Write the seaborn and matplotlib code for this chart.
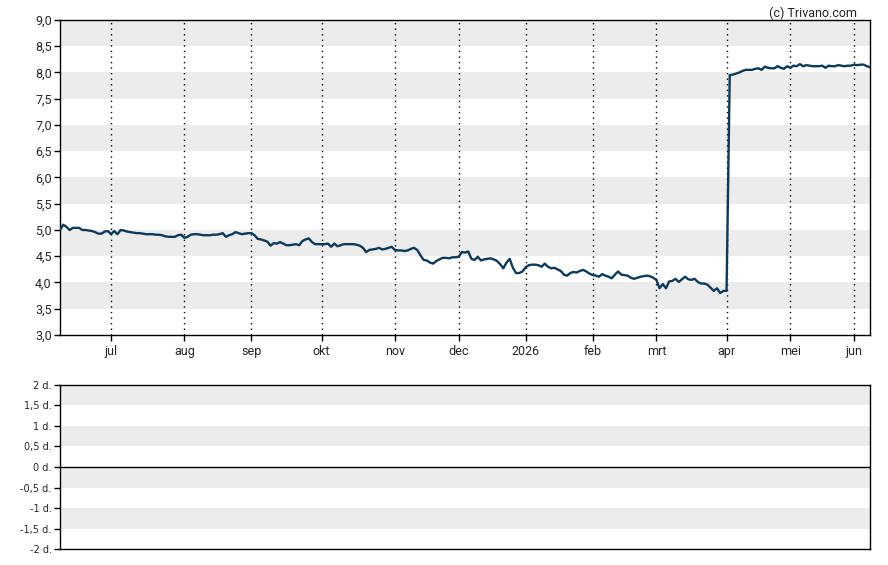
import numpy as np
import pandas as pd
import matplotlib
matplotlib.use("Agg")
import matplotlib.pyplot as plt
import seaborn as sns

# koersdata per maand (handelsdagen)
jun_2025 = [5.00, 5.10, 5.06, 5.00, 5.04, 5.04, 5.04, 5.00, 5.00, 4.99, 4.98, 4.96, 4.93, 4.93, 4.97, 4.98]
jul_2025 = [4.92, 4.98, 4.92, 5.00, 4.99, 4.97, 4.96, 4.95, 4.94, 4.94, 4.93, 4.92, 4.92, 4.92, 4.91, 4.91,
            4.90, 4.88, 4.87, 4.87, 4.87, 4.90, 4.91]
aug_2025 = [4.85, 4.87, 4.91, 4.92, 4.92, 4.91, 4.90, 4.90, 4.90, 4.91, 4.91, 4.92, 4.94, 4.87, 4.90, 4.92,
            4.96, 4.94, 4.92, 4.93, 4.94]
sep_2025 = [4.94, 4.90, 4.83, 4.82, 4.80, 4.78, 4.70, 4.75, 4.74, 4.77, 4.74, 4.71, 4.71, 4.72, 4.73, 4.71,
            4.79, 4.82, 4.84, 4.77, 4.73, 4.73]
okt_2025 = [4.73, 4.73, 4.74, 4.68, 4.74, 4.69, 4.71, 4.73, 4.73, 4.73, 4.73, 4.72, 4.70, 4.66, 4.58, 4.62,
            4.63, 4.64, 4.66, 4.63, 4.64, 4.66, 4.68]
nov_2025 = [4.62, 4.61, 4.61, 4.60, 4.61, 4.64, 4.66, 4.62, 4.52, 4.43, 4.42, 4.38, 4.36, 4.41, 4.44, 4.47,
            4.47, 4.46, 4.48, 4.48]
dec_2025 = [4.49, 4.58, 4.57, 4.59, 4.45, 4.43, 4.49, 4.42, 4.44, 4.45, 4.46, 4.44, 4.41, 4.35, 4.27, 4.38,
            4.45, 4.28, 4.18, 4.18, 4.21]
jan_2026 = [4.29, 4.33, 4.34, 4.34, 4.33, 4.30, 4.36, 4.30, 4.27, 4.28, 4.25, 4.22, 4.15, 4.13, 4.18, 4.20,
            4.19, 4.22, 4.24, 4.21, 4.17]
feb_2026 = [4.14, 4.13, 4.11, 4.16, 4.13, 4.11, 4.08, 4.15, 4.21, 4.15, 4.14, 4.13, 4.09, 4.07, 4.09, 4.11,
            4.12, 4.13, 4.12, 4.09]
mrt_2026 = [4.05, 3.89, 3.97, 3.89, 4.02, 4.03, 4.07, 4.01, 4.06, 4.11, 4.06, 4.05, 4.07, 4.01, 3.98, 3.98,
            3.96, 3.90, 3.84, 3.89, 3.80, 3.84]
apr_2026 = [3.84, 7.95, 7.96, 7.98, 8.00, 8.03, 8.05, 8.05, 8.05, 8.07, 8.08, 8.05, 8.11, 8.09, 8.08, 8.08,
            8.12, 8.09, 8.07, 8.12]
mei_2026 = [8.09, 8.13, 8.12, 8.16, 8.12, 8.14, 8.13, 8.12, 8.12, 8.12, 8.13, 8.09, 8.13, 8.12, 8.12, 8.14,
            8.13, 8.12, 8.13, 8.13]
jun_2026 = [8.15, 8.14, 8.15, 8.15, 8.12, 8.10]

feestdagen = ["2025-12-25", "2025-12-26", "2026-01-01", "2026-04-03", "2026-04-06", "2026-05-01"]
maand_labels = ["jul", "aug", "sep", "okt", "nov", "dec", "2026", "feb", "mrt", "apr", "mei", "jun"]
y_ticks = [3.0, 3.5, 4.0, 4.5, 5.0, 5.5, 6.0, 6.5, 7.0, 7.5, 8.0, 8.5, 9.0]
dag_ticks = [-2, -1.5, -1, -0.5, 0, 0.5, 1, 1.5, 2]

koers = (jun_2025 + jul_2025 + aug_2025 + sep_2025 + okt_2025 + nov_2025 + dec_2025
         + jan_2026 + feb_2026 + mrt_2026 + apr_2026 + mei_2026 + jun_2026)
datums = pd.bdate_range("2025-06-09", periods=len(koers), freq="C", holidays=feestdagen)
df = pd.DataFrame({"datum": datums, "koers": koers})
df["pos"] = np.arange(len(df))

# eerste handelsdag van elke maand
maand = df["datum"].dt.to_period("M")
tick_pos = df.loc[maand != maand.shift(), "pos"].values[1:]

sns.set_style("white")
plt.rcParams["font.family"] = ["Roboto", "DejaVu Sans"]

fig = plt.figure(figsize=(8.88, 5.65), dpi=100)
ax = fig.add_axes([0.0676, 0.4071, 0.9122, 0.5575])
ax2 = fig.add_axes([0.0676, 0.0283, 0.9122, 0.2903])

band = "#ececec"
# === koersgrafiek ===
for lo in np.arange(3.5, 9.0, 1.0):
    ax.axhspan(lo, lo + 0.5, color=band, lw=0, zorder=0)
for p in tick_pos:
    ax.axvline(p, color="black", ls=(0, (1, 3)), lw=1, zorder=1)
sns.lineplot(data=df, x="pos", y="koers", ax=ax, color="#0d3a5b", lw=1.7, zorder=3)

ax.set_xlim(0, len(df) - 1)
ax.set_ylim(3, 9)
ax.set_yticks(y_ticks)
ax.set_yticklabels([f"{v:.1f}".replace(".", ",") for v in y_ticks])
ax.set_xticks(tick_pos)
ax.set_xticklabels(maand_labels)
ax.set_xlabel("")
ax.set_ylabel("")
ax.tick_params(axis="both", direction="out", length=4, width=1, color="black",
               labelsize=9, pad=2, bottom=True, left=True)
ax.tick_params(axis="x", pad=3)
for s in ax.spines.values():
    s.set_color("black")
    s.set_linewidth(1)

# === dagen-paneel ===
for lo in [-1.5, -0.5, 0.5, 1.5]:
    ax2.axhspan(lo, lo + 0.5, color=band, lw=0, zorder=0)
ax2.axhline(0, color="black", lw=1)
ax2.set_xlim(0, len(df) - 1)
ax2.set_ylim(-2, 2)
ax2.set_xticks([])
ax2.set_yticks(dag_ticks)
ax2.set_yticklabels([(f"{v:g}".replace(".", ",") + " d.") for v in dag_ticks])
ax2.tick_params(axis="y", direction="out", length=4, width=1, color="black",
                labelsize=7, pad=2, left=True)
for lab in ax2.get_yticklabels():
    lab.set_fontfamily(["DejaVu Sans"])
for s in ax2.spines.values():
    s.set_color("black")
    s.set_linewidth(1)

fig.text(0.965, 0.988, "(c) Trivano.com", ha="right", va="top", fontsize=9, color="#222222")

plt.savefig("out.png", dpi=100)
